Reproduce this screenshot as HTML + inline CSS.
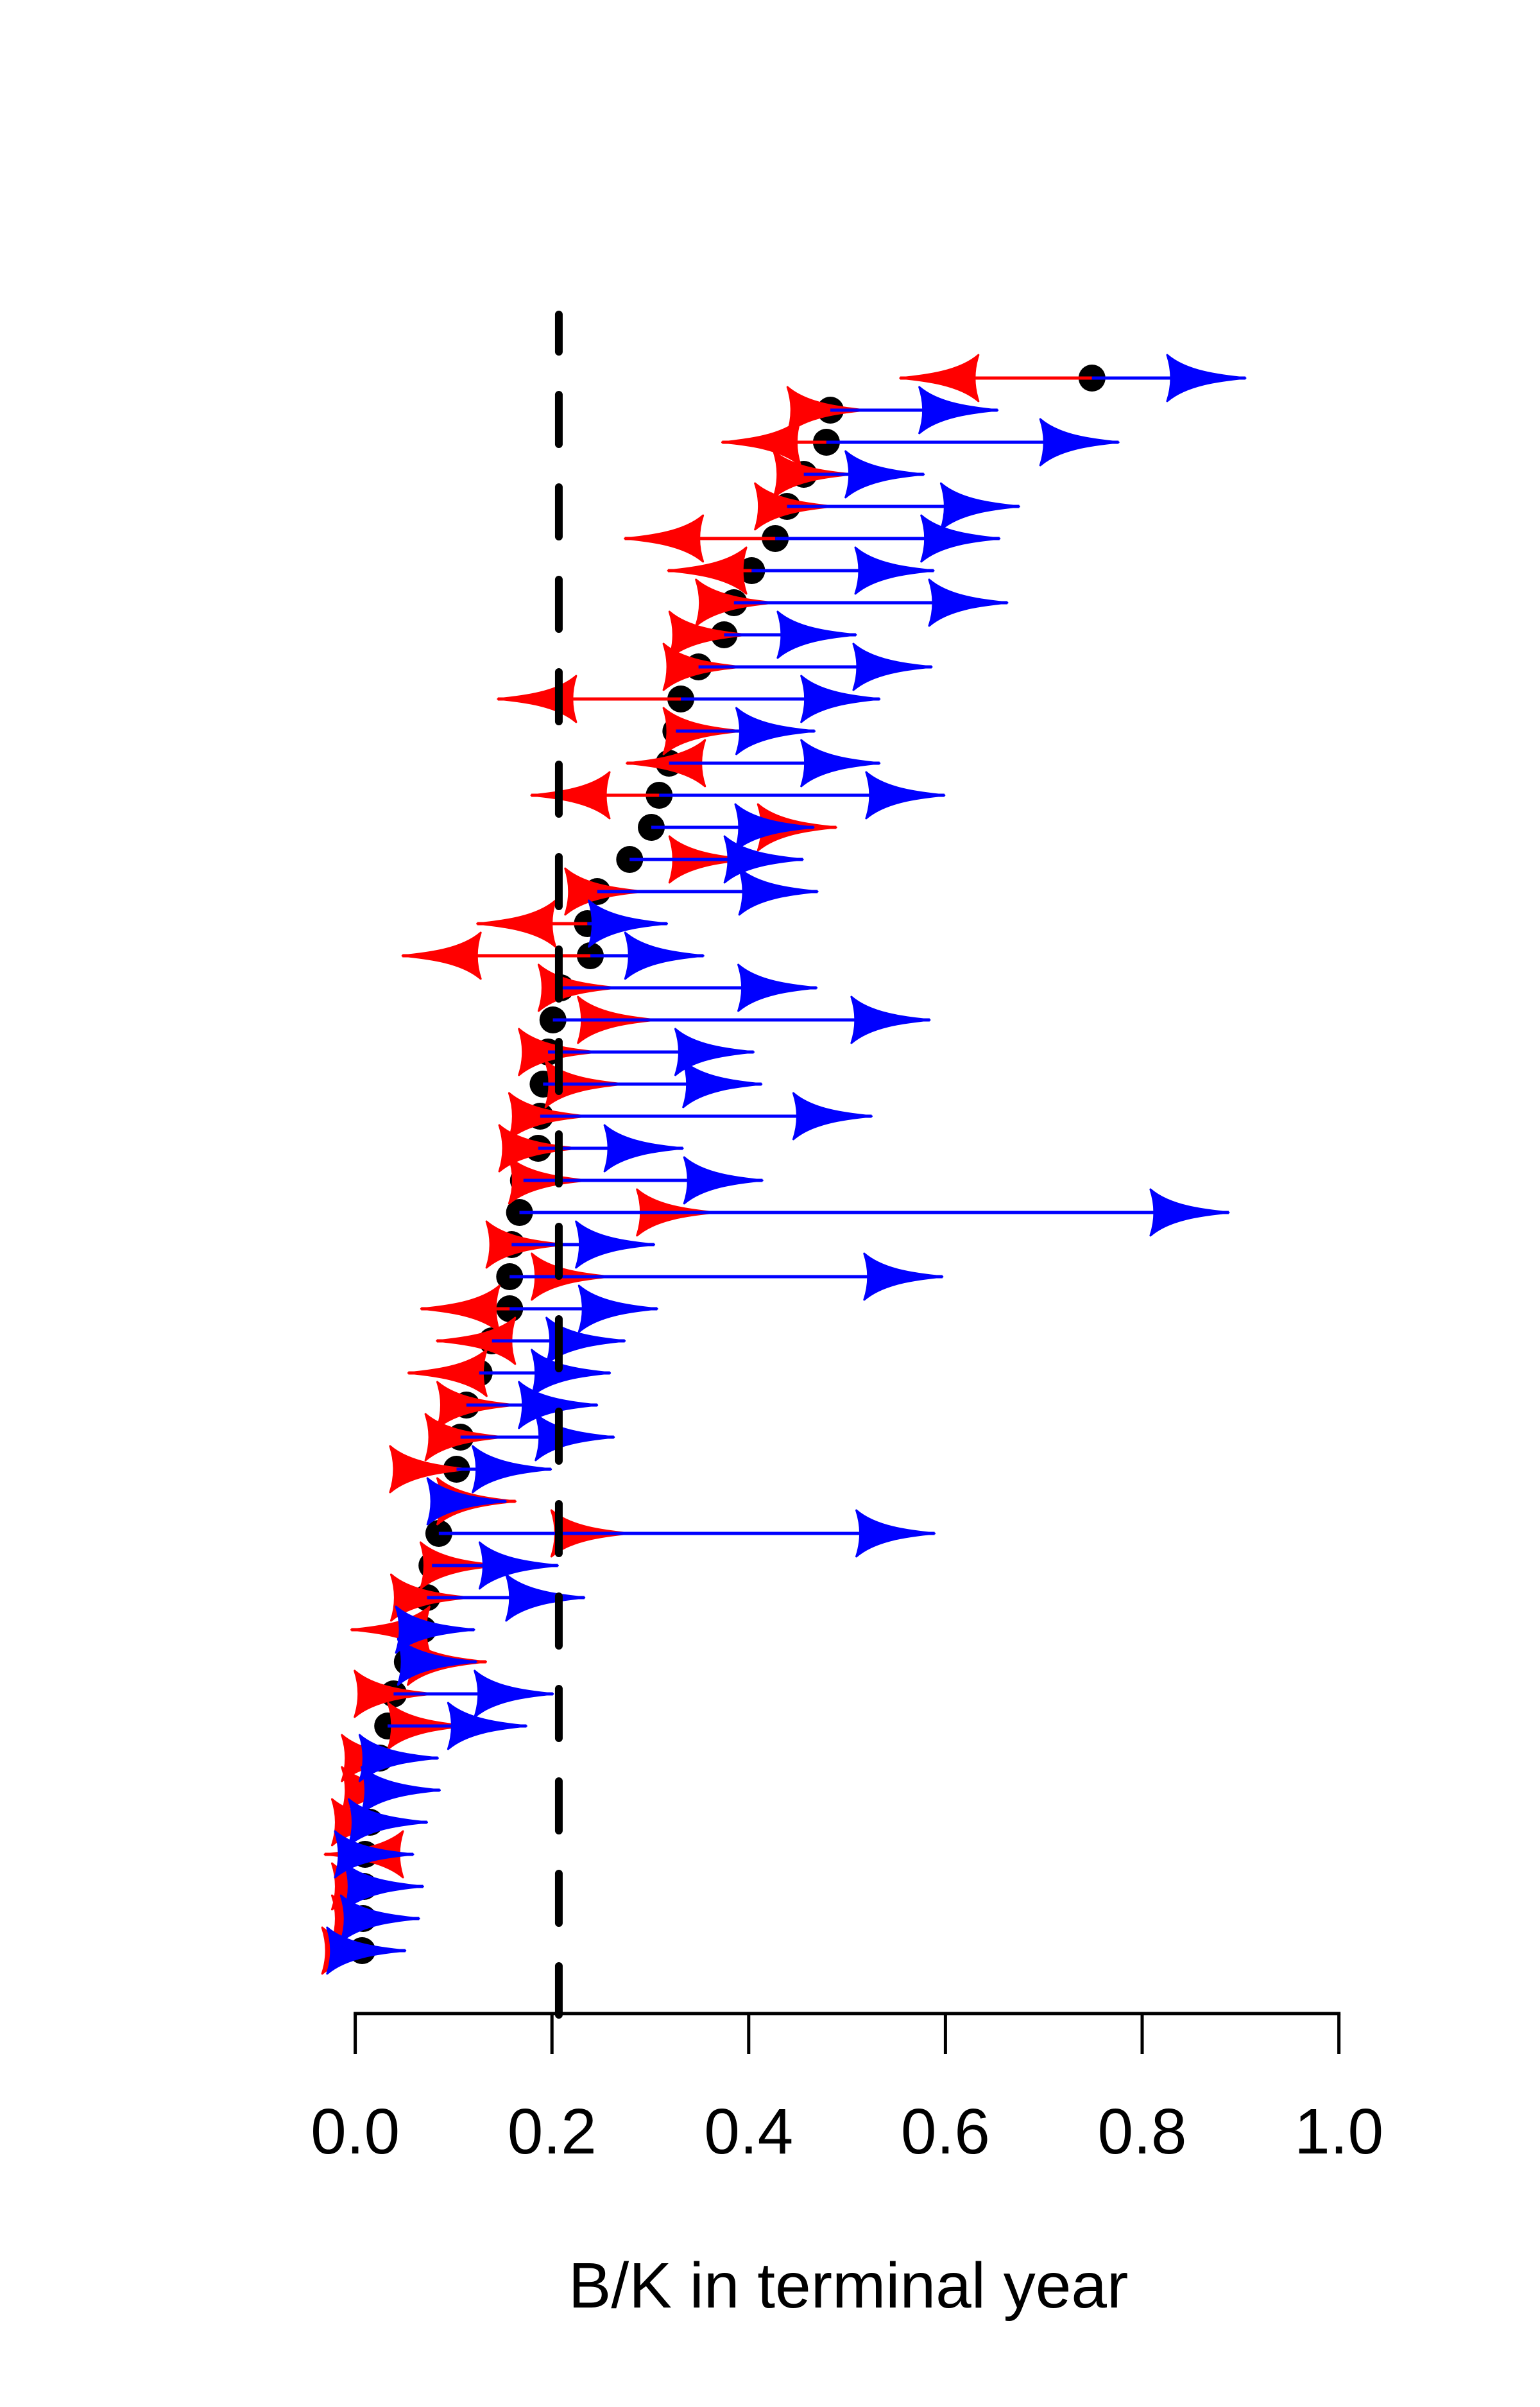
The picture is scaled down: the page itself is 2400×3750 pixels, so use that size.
<!DOCTYPE html>
<html><head><meta charset="utf-8"><title>B/K in terminal year</title>
<style>html,body{margin:0;padding:0;background:#fff;}svg{display:block;}</style></head>
<body>
<svg id="chart" width="2400" height="3750" viewBox="0 0 2400 3750" xmlns="http://www.w3.org/2000/svg">
<rect width="2400" height="3750" fill="#fff"/>
<g id="dot-layer"></g>
<g id="red-layer"></g>
<g id="blue-layer"></g>
<g id="axis"></g>
<g id="ref-layer"></g>
<text x="1322" y="3595" font-family="Liberation Sans, Arial, sans-serif" font-size="100" text-anchor="middle" fill="#000">B/K in terminal year</text>
</svg>
<script>
const dots = [0.749,0.483,0.479,0.456,0.439,0.427,0.403,0.385,0.375,0.349,
0.331,0.326,0.319,0.309,0.301,0.279,0.246,0.236,0.239,0.209,
0.201,0.196,0.191,0.188,0.186,0.171,0.167,0.159,0.157,0.157,
0.139,0.126,0.113,0.107,0.103,0.095,0.085,0.078,0.073,0.069,
0.053,0.039,0.033,0.025,0.020,0.015,0.010,0.009,0.008,0.007];
const redEnd = [0.554,0.519,0.373,0.505,0.486,0.274,0.318,0.426,0.399,0.393,
0.145,0.393,0.276,0.179,0.489,0.399,0.293,0.124,0.048,0.266,
0.306,0.246,0.273,0.236,0.226,0.236,0.366,0.213,0.259,0.067,
0.083,0.054,0.163,0.151,0.115,0.163,0.279,0.146,0.116,-0.004,
0.133,0.079,0.113,0.066,0.066,0.056,-0.031,0.056,0.056,0.046];
const blueEnd = [0.905,0.653,0.776,0.578,0.675,0.655,0.588,0.663,0.509,0.586,
0.533,0.467,0.533,0.599,0.466,0.455,0.470,0.317,0.354,0.469,
0.584,0.405,0.413,0.525,0.333,0.414,0.888,0.304,0.597,0.307,
0.274,0.259,0.246,0.263,0.199,0.153,0.589,0.206,0.233,0.121,
0.123,0.201,0.174,0.084,0.086,0.073,0.059,0.069,0.065,0.051];
const tickValues = [0.0,0.2,0.4,0.6,0.8,1.0];
const tickLabels = ["0.0","0.2","0.4","0.6","0.8","1.0"];
const refValue = 0.207;

const NS = "http://www.w3.org/2000/svg";
const X0 = 553.6, XS = 1533;
function xs(v){ return X0 + v*XS; }
function ys(i){ return 589 + i*50.0; }
function mk(tag, attrs, parent){
  const e = document.createElementNS(NS, tag);
  for (const k in attrs) e.setAttribute(k, attrs[k]);
  parent.appendChild(e);
  return e;
}
const L = 122, H = 36;
function arrow(parent, x0, x1, y, color, name){
  const g = mk('g', {}, parent);
  
  
  const ln = mk('line', {x1:x0, y1:y, x2:x1, y2:y, stroke:color, 'stroke-width':5}, g);
  
  
  const d = x1 >= x0 ? 1 : -1;
  const p = `M0,0 C-40,-4 -92,-10 -${L},-${H} Q-${L-12},0 -${L},${H} C-92,10 -40,4 0,0 Z`;
  const hd = mk('path', {d:p, fill:color, stroke:color, 'stroke-width':3, 'stroke-linejoin':'round',
    transform:`translate(${x1},${y}) scale(${d},1)`}, g);
  
  
}
const red = document.getElementById('red-layer');
const blue = document.getElementById('blue-layer');
const dl = document.getElementById('dot-layer');
for (let i=0;i<dots.length;i++){
  const c = mk('circle', {cx:xs(dots[i]), cy:ys(i), r:21, fill:'#000'}, dl);
  
  
}
for (let i=0;i<dots.length;i++){
  arrow(red, xs(dots[i]), xs(redEnd[i]), ys(i), '#ff0000', 'red-arrow-' + (i+1));
}
for (let i=0;i<dots.length;i++){
  arrow(blue, xs(dots[i]), xs(blueEnd[i]), ys(i), '#0000ff', 'blue-arrow-' + (i+1));
}
const ax = document.getElementById('axis');
const al = mk('line', {x1:xs(0), y1:3137, x2:xs(1), y2:3137, stroke:'#000', 'stroke-width':5, 'stroke-linecap':'square'}, ax);


for (let i=0;i<tickValues.length;i++){
  const t = mk('line', {x1:xs(tickValues[i]), y1:3137, x2:xs(tickValues[i]), y2:3200, stroke:'#000', 'stroke-width':5}, ax);
  
  
  const tx = mk('text', {x:xs(tickValues[i]), y:3355, 'font-family':'Liberation Sans, Arial, sans-serif', 'font-size':100, 'text-anchor':'middle', fill:'#000'}, ax);
  tx.textContent = tickLabels[i];
  
  
}
const ref = mk('line', {x1:xs(refValue), y1:490, x2:xs(refValue), y2:3139, stroke:'#000', 'stroke-width':12, 'stroke-linecap':'round', 'stroke-dasharray':'77 67', 'stroke-dashoffset':'19'}, document.getElementById('ref-layer'));


</script>
</body></html>
